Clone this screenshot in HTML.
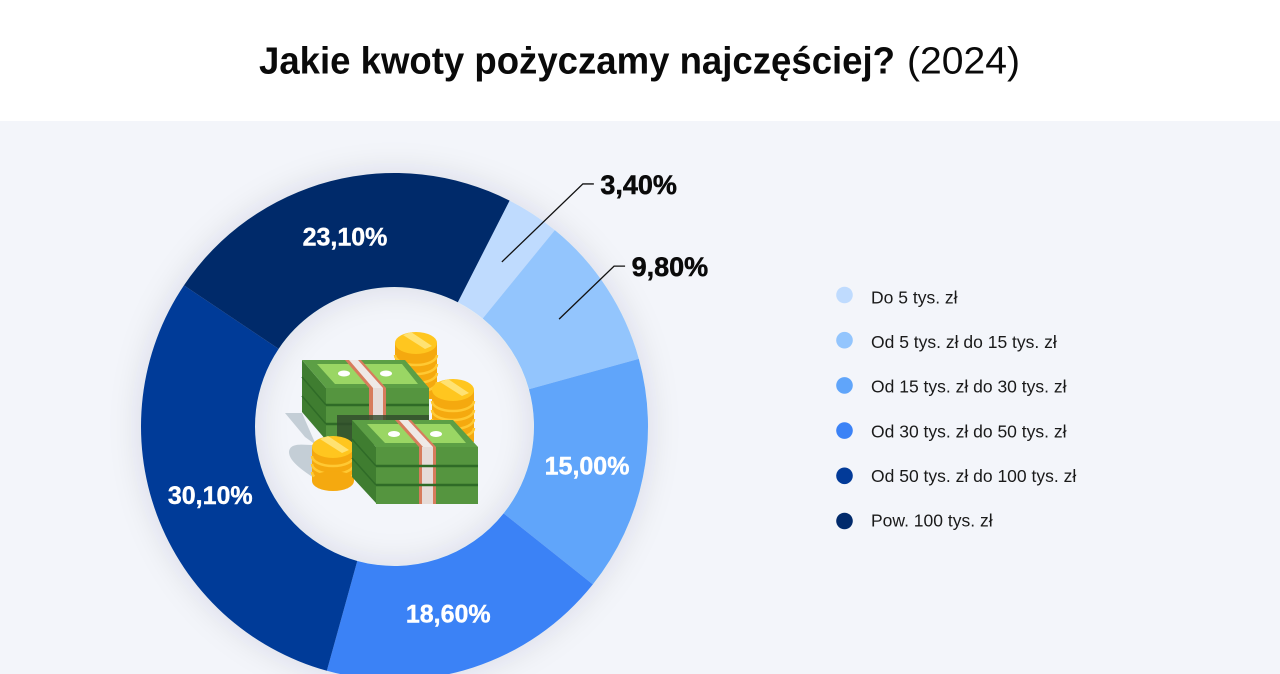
<!DOCTYPE html>
<html lang="pl">
<head>
<meta charset="utf-8">
<title>Jakie kwoty pożyczamy najczęściej? (2024)</title>
<style>
html,body{margin:0;padding:0;background:#fff;width:1280px;height:674px;overflow:hidden}
svg{display:block}
text{font-family:"Liberation Sans",sans-serif}
</style>
</head>
<body>
<svg id="chart" width="1280" height="674" viewBox="0 0 1280 674" xmlns="http://www.w3.org/2000/svg">
  <defs>
    <filter id="soft" x="-20%" y="-20%" width="140%" height="140%">
      <feDropShadow dx="0" dy="0" stdDeviation="16" flood-color="#1e2a50" flood-opacity="0.12"/>
    </filter>
  </defs>
  <rect x="0" y="0" width="1280" height="121" fill="#ffffff"/>
  <rect x="0" y="121" width="1280" height="553" fill="#f3f5fa"/>
  <text x="259" y="73.5" font-size="38" font-weight="700" fill="#0a0a0a" textLength="636" lengthAdjust="spacingAndGlyphs">Jakie kwoty pożyczamy najczęściej?</text>
  <text x="907" y="73.5" font-size="38" fill="#0a0a0a" textLength="113" lengthAdjust="spacingAndGlyphs">(2024)</text>
  <g id="donut" filter="url(#soft)"></g>
  <g id="labels"></g>
  <g id="legend"></g>

  <g>
    <polygon points="285,413 302,413 316,445 305,437" fill="#c4ced6"/>
    <path d="M289,452 C290,442 303,445 315,445 L320,482 C305,472 289,462 289,452Z" fill="#c4ced6"/>

    <g>
      <rect x="395" y="343" width="42" height="56" fill="#f5a90f"/>
      <path d="M395,355a21,10 0 0 0 42,0M395,364a21,10 0 0 0 42,0M395,373a21,10 0 0 0 42,0M395,382a21,10 0 0 0 42,0" fill="none" stroke="#ffc933" stroke-width="2.5"/>
      <ellipse cx="416" cy="343" rx="21" ry="11" fill="#ffc61f"/>
      <path d="M403,335l22,14 7,-3 -21,-14z" fill="#ffe272"/>
    </g>

    <g>
      <rect x="432" y="390" width="42" height="52" fill="#f5a90f"/>
      <path d="M432,401a21,10 0 0 0 42,0M432,410a21,10 0 0 0 42,0M432,419a21,10 0 0 0 42,0M432,428a21,10 0 0 0 42,0" fill="none" stroke="#ffc933" stroke-width="2.5"/>
      <ellipse cx="453" cy="390" rx="21" ry="11" fill="#ffc61f"/>
      <path d="M440,382l22,14 7,-3 -21,-14z" fill="#ffe272"/>
    </g>

    <g>
      <polygon points="302,360 326,388 326,440 302,412" fill="#3f7d30"/>
      <rect x="326" y="388" width="103" height="56" fill="#55953f"/>
      <path d="M326,405H429M326,424H429" stroke="#2f6b27" stroke-width="2.5"/>
      <path d="M302,377L326,405M302,396L326,424" stroke="#2f6b27" stroke-width="1.5"/>
      <polygon points="302,360 405,360 429,388 326,388" fill="#5c9f45"/>
      <polygon points="317,364 402,364 418,384 335,384" fill="#9ad664"/>
      <polygon points="345,360 361,360 386,388 369,388" fill="#d77c5c"/>
      <polygon points="349,360 358,360 383,388 373,388" fill="#efe9e6"/>
      <rect x="369" y="388" width="17" height="32" fill="#d77c5c"/>
      <rect x="373" y="388" width="10" height="32" fill="#e6dcd8"/>
      <ellipse cx="344" cy="373.5" rx="6" ry="3" fill="#ffffff"/>
      <ellipse cx="386" cy="373.5" rx="6" ry="3" fill="#ffffff"/>
      <rect x="337" y="415" width="92" height="30" fill="#2f4a2c" fill-opacity="0.8"/>
    </g>

    <g>
      <rect x="312" y="447" width="42" height="34" fill="#f5a90f"/>
      <path d="M312,456a21,10 0 0 0 42,0M312,464a21,10 0 0 0 42,0M312,472a21,10 0 0 0 42,0" fill="none" stroke="#ffc933" stroke-width="2.5"/>
      <ellipse cx="333" cy="481" rx="21" ry="10" fill="#f5a90f"/>
      <ellipse cx="333" cy="447" rx="21" ry="11" fill="#ffc61f"/>
      <path d="M320,439l22,14 7,-3 -21,-14z" fill="#ffe272"/>
    </g>

    <g>
      <polygon points="352,420 376,447 376,503 352,477" fill="#3f7d30"/>
      <rect x="376" y="447" width="102" height="57" fill="#55953f"/>
      <path d="M376,466H478M376,485H478" stroke="#2f6b27" stroke-width="2.5"/>
      <path d="M352,439L376,466M352,458L376,485" stroke="#2f6b27" stroke-width="1.5"/>
      <polygon points="352,420 453,420 478,447 376,447" fill="#5c9f45"/>
      <polygon points="367,424 450,424 466,443 385,443" fill="#9ad664"/>
      <polygon points="395,420 411,420 436,447 419,447" fill="#d77c5c"/>
      <polygon points="399,420 408,420 433,447 423,447" fill="#efe9e6"/>
      <rect x="419" y="447" width="17" height="57" fill="#d77c5c"/>
      <rect x="422" y="447" width="11" height="57" fill="#e6dcd8"/>
      <path d="M419,466H436M419,485H436" stroke="#2f6b27" stroke-width="2.5"/>
      <ellipse cx="394" cy="434" rx="6" ry="3" fill="#ffffff"/>
      <ellipse cx="436" cy="434" rx="6" ry="3" fill="#ffffff"/>
    </g>
  </g>
</svg>

<script>
const categories = ["Do 5 tys. zł", "Od 5 tys. zł do 15 tys. zł", "Od 15 tys. zł do 30 tys. zł", "Od 30 tys. zł do 50 tys. zł", "Od 50 tys. zł do 100 tys. zł", "Pow. 100 tys. zł"];
const shares = [3.4, 9.8, 15.0, 18.6, 30.1, 23.1];
const sliceColors = ["#bfdbfe", "#93c5fd", "#60a5fa", "#3b82f6", "#023a98", "#012a6b"];

const NS = "http://www.w3.org/2000/svg";
const CX = 394.5, CY = 426.5, R_OUT = 253.5, R_IN = 139.5, R_LABEL = 196.5, START_DEG = 27;
const total = shares.reduce(function (a, b) { return a + b; }, 0);

function angleOf(v) { return v / total * 360; }
function polar(r, deg) {
  const t = deg * Math.PI / 180;
  return [CX + r * Math.sin(t), CY - r * Math.cos(t)];
}
function fmt(v) { return v.toFixed(2).replace(".", ",") + "%"; }
function make(tag, attrs) {
  const el = document.createElementNS(NS, tag);
  Object.keys(attrs).forEach(function (k) { el.setAttribute(k, attrs[k]); });
  return el;
}

const donut = document.getElementById("donut");
const labels = document.getElementById("labels");
const legend = document.getElementById("legend");

let cursor = START_DEG;
shares.forEach(function (v, i) {
  const a0 = cursor, a1 = cursor + angleOf(v), mid = (a0 + a1) / 2;
  cursor = a1;
  const large = a1 - a0 > 180 ? 1 : 0;
  const p0 = polar(R_OUT, a0), p1 = polar(R_OUT, a1), p2 = polar(R_IN, a1), p3 = polar(R_IN, a0);
  const path = make("path", {
    d: "M" + p0[0] + "," + p0[1] + "A" + R_OUT + "," + R_OUT + " 0 " + large + " 1 " + p1[0] + "," + p1[1] +
       "L" + p2[0] + "," + p2[1] + "A" + R_IN + "," + R_IN + " 0 " + large + " 0 " + p3[0] + "," + p3[1] + "Z",
    fill: sliceColors[i]
  });
  
  
  donut.appendChild(path);

  const anchor = polar(R_LABEL, mid);
  if (v < 10) {
    const reachX = i === 0 ? 81 : 55;
    const reachY = i === 0 ? 78 : 53;
    const ex = anchor[0] + reachX, ey = anchor[1] - reachY;
    const line = make("polyline", {
      points: anchor[0] + "," + anchor[1] + " " + ex + "," + ey + " " + (ex + 11) + "," + ey,
      fill: "none", stroke: "#111111", "stroke-width": 1.3
    });
    
    
    labels.appendChild(line);
    const outer = make("text", { x: ex + 17.5, y: ey + 10, "font-size": 27, "font-weight": 700, fill: "#0a0a0a", stroke: "#0a0a0a", "stroke-width": 0.5 });
    
    
    outer.textContent = fmt(v);
    labels.appendChild(outer);
  } else {
    const nudge = i === 3 ? -7 : 0;
    const inner = make("text", { x: anchor[0] + nudge, y: anchor[1] + 9, "font-size": 25, "font-weight": 700, fill: "#ffffff", stroke: "#ffffff", "stroke-width": 0.4, "text-anchor": "middle" });
    
    
    inner.textContent = fmt(v);
    labels.appendChild(inner);
  }

  const dot = make("circle", { cx: 844.5, cy: 295 + i * 45.2, r: 8.3, fill: sliceColors[i] });
  
  
  legend.appendChild(dot);
  const txt = make("text", { x: 871, y: 303.5 + i * 44.6, "font-size": 17.5, fill: "#1a1a1a", "letter-spacing": "0" });
  
  
  txt.textContent = categories[i];
  legend.appendChild(txt);
});
</script>
</body>
</html>
